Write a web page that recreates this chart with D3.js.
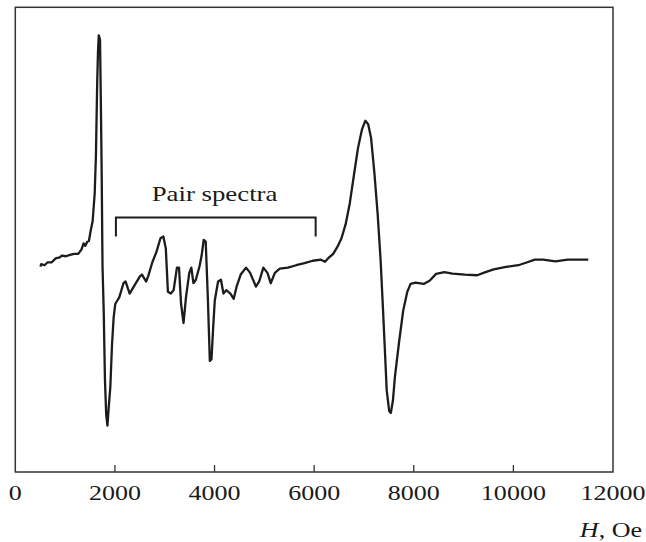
<!DOCTYPE html>
<html>
<head>
<meta charset="utf-8">
<script src="https://cdn.jsdelivr.net/npm/d3@7/dist/d3.min.js"></script>
<style>
  html, body { margin: 0; padding: 0; background: #fff; }
  svg text { font-family: "Liberation Serif", "Times New Roman", serif; fill: #1a1a1a; }
</style>
</head>
<body>
<svg id="chart" width="646" height="542"></svg>
<script>
// Magnetic field H, Oe
const fieldH = [504, 520, 586, 644, 727, 810, 892, 933, 1016, 1098, 1181, 1264, 1330, 1371, 1404, 1445, 1478, 1511, 1553, 1594, 1619, 1643, 1660, 1676, 1701, 1718, 1734, 1751,
  1775, 1800, 1825, 1850, 1875, 1908, 1941, 1974, 2007, 2048, 2089, 2172, 2213, 2296, 2378, 2502, 2543, 2626, 2667, 2750, 2832, 2915, 2973,
  3022, 3064, 3122, 3179, 3245, 3287, 3328, 3378, 3427, 3493, 3534, 3576, 3625, 3700, 3741, 3782, 3823, 3865, 3906, 3939, 3972, 4005,
  4071, 4129, 4179, 4236, 4319, 4385, 4443, 4525, 4633, 4715, 4831, 4897, 4980, 5062, 5128, 5211, 5310, 5475, 5640, 5805, 5971, 6136,
  6218, 6301, 6383, 6466, 6549, 6631, 6714, 6796, 6879, 6961, 7028, 7085, 7143, 7209, 7275, 7333, 7374, 7416, 7457, 7507, 7540, 7581,
  7622, 7705, 7787, 7870, 7936, 8035, 8200, 8324, 8448, 8613, 8778, 9026, 9274, 9439, 9604, 9852, 10100, 10265, 10430, 10595, 10843,
  11091, 11256, 11503];
// EPR signal (derivative), arbitrary units
const signal = [-0.2, 0.5, 0.2, 1.0, 1.0, 2.2, 2.5, 3.0, 2.8, 3.2, 3.5, 3.5, 4.8, 6.5, 5.8, 7.0, 7.2, 10.0, 13.0, 21.0, 32.0, 52.0, 62.0, 66.7, 65.5, 47.0, 27.0, 0,
  -13, -33, -43, -46.2, -41, -35, -23, -15, -11, -10, -9, -5, -4.5, -8, -6, -3, -2.5, -4.5, -3, 1, 4, 8, 8.5,
  5, -7.5, -8, -7, -0.5, -0.5, -11, -16.5, -9, -2, -0.5, -5, -4, 0, 3, 7.5, 7, -9, -27.5, -27, -18, -10,
  -4.5, -4, -8, -7, -8, -9.5, -6, -2.5, -0.5, -2, -6, -4.5, -0.5, -2, -5, -2, -0.8, -0.5, 0.2, 0.8, 1.5, 1.8,
  1.2, 2.5, 3.5, 5.5, 8, 12, 18, 26, 34, 39.5, 42, 41, 37, 27, 15, 2, -10, -23, -36, -42, -42.5, -39,
  -32, -22, -13, -7.5, -5.2, -4.8, -5.2, -4.2, -2.3, -1.8, -2.2, -2.5, -2.7, -1.8, -1, -0.3, 0.2, 1, 1.8, 1.8, 1.3,
  1.8, 1.8, 1.8];

const xTicks = [0, 2000, 4000, 6000, 8000, 10000, 12000];
const xDomain = [0, 12000];
const yDomain = [-59.6, 74.8];

const bracketRange = [2020, 6030];
const bracketLevel = 14;
const bracketEnd = 8.5;
const bracketLabel = "Pair spectra";
const bracketLabelPos = [4000, 18.8];
const axisLabel = "Oe";

(function () {
const svg = d3.select("#chart");
const mLeft = 15.3, mRight = 613, mTop = 7.3, mBottom = 472;
const x = d3.scaleLinear().domain(xDomain).range([mLeft, mRight]);
const y = d3.scaleLinear().domain(yDomain).range([mBottom, mTop]);

// frame
svg.append("rect")
  .attr("x", mLeft).attr("y", mTop)
  .attr("width", mRight - mLeft).attr("height", mBottom - mTop)
  .attr("fill", "none").attr("stroke", "#333").attr("stroke-width", 1.5);

// ticks (inward) + labels
const axis = svg.append("g");
axis.selectAll("line.tick").data(xTicks.slice(1, -1)).enter().append("line")
  .attr("x1", d => x(d)).attr("x2", d => x(d))
  .attr("y1", mBottom).attr("y2", mBottom - 7)
  .attr("stroke", "#333").attr("stroke-width", 1.3);
axis.selectAll("text.tl").data(xTicks).enter().append("text")
  .attr("transform", d => `translate(${x(d)},500) scale(1.24,1)`)
  .attr("text-anchor", "middle")
  .style("font-size", "21px")
  .text(d => d);

// axis title "H, Oe"
const t = svg.append("text")
  .attr("transform", "translate(642,537) scale(1.24,1)")
  .attr("text-anchor", "end")
  .style("font-size", "21px");
t.append("tspan").style("font-style", "italic").text("H");
t.append("tspan").text(", " + axisLabel);

// curve
const pts = fieldH.map((h, i) => [h, signal[i]]);
const line = d3.line().x(d => x(d[0])).y(d => y(d[1]));
svg.append("path")
  .attr("d", line(pts))
  .attr("fill", "none").attr("stroke", "#1c1c1c")
  .attr("stroke-width", 2.3).attr("stroke-linejoin", "round");

// bracket
svg.append("path")
  .attr("d", line([[bracketRange[0], bracketEnd], [bracketRange[0], bracketLevel], [bracketRange[1], bracketLevel], [bracketRange[1], bracketEnd]]))
  .attr("fill", "none").attr("stroke", "#1c1c1c").attr("stroke-width", 2);
svg.append("text")
  .attr("transform", `translate(${x(bracketLabelPos[0])},${y(bracketLabelPos[1])}) scale(1.22,1)`)
  .attr("text-anchor", "middle")
  .style("font-size", "22px")
  .text(bracketLabel);
})();
</script>
</body>
</html>
